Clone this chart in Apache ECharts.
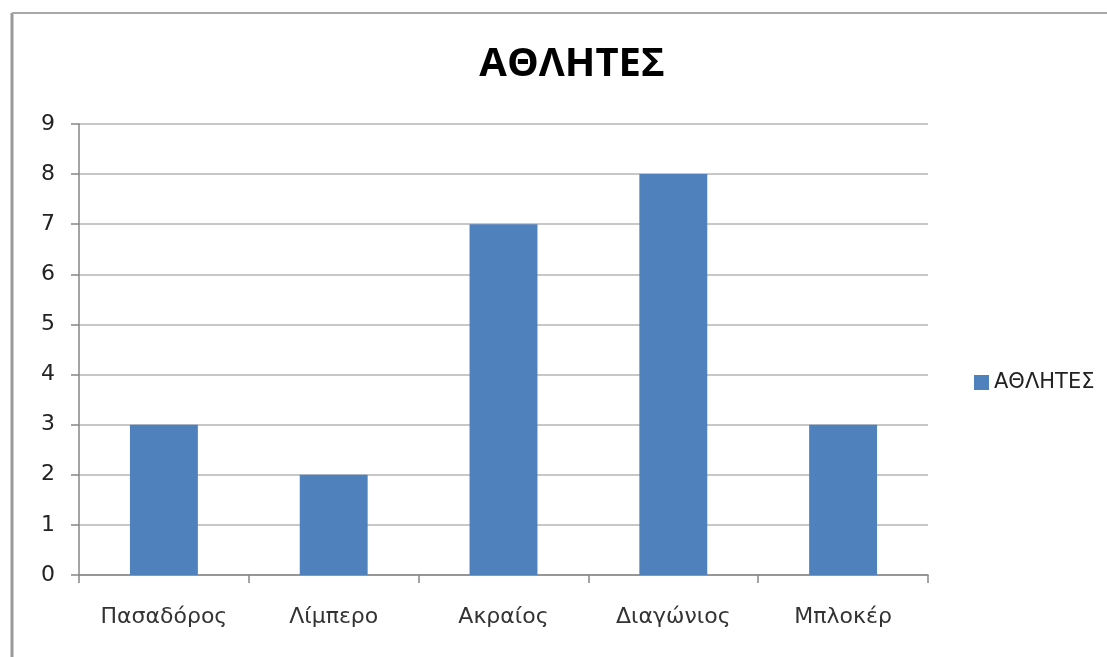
<!DOCTYPE html>
<html>
<head>
<meta charset="utf-8">
<script src="https://cdn.jsdelivr.net/npm/echarts@6/dist/echarts.min.js"></script>
<style>
  html, body { margin: 0; padding: 0; background: #fff; }
  #chart { width: 1107px; height: 657px; }
</style>
</head>
<body>
<div id="chart"></div>
<script>
// Players per position
const categories = ['Πασαδόρος', 'Λίμπερο', 'Ακραίος', 'Διαγώνιος', 'Μπλοκέρ'];
const athletes = [3, 2, 7, 8, 3];
const seriesName = 'ΑΘΛΗΤΕΣ';
const chartTitle = 'ΑΘΛΗΤΕΣ';

const chart = echarts.init(document.getElementById('chart'));
const font = 'DejaVu Sans, Verdana, sans-serif';

chart.setOption({
  animation: false,
  backgroundColor: '#fff',
  title: {
    text: chartTitle,
    left: 567,
    textAlign: 'center',
    top: 40,
    textStyle: { fontFamily: 'Open Sans, sans-serif', fontWeight: 'bold', fontSize: 40, color: '#000' }
  },
  legend: {
    data: [seriesName],
    left: 969,
    top: 367,
    orient: 'vertical',
    icon: 'rect',
    itemWidth: 15,
    itemHeight: 15,
    itemGap: 8,
    textStyle: { fontFamily: font, fontSize: 21, color: '#222' }
  },
  grid: { left: 79, right: 179, top: 124, bottom: 82, containLabel: false },
  xAxis: {
    type: 'category',
    data: categories,
    axisLine: { lineStyle: { color: '#868686', width: 1.5 } },
    axisTick: { show: true, length: 8, lineStyle: { color: '#868686', width: 1.5 } },
    axisLabel: { fontFamily: font, fontSize: 22, color: '#333', margin: 31 }
  },
  yAxis: {
    type: 'value',
    min: 0,
    max: 9,
    interval: 1,
    axisLine: { show: true, lineStyle: { color: '#868686', width: 1.5 } },
    axisTick: { show: true, length: 8, lineStyle: { color: '#868686', width: 1.5 } },
    axisLabel: { fontFamily: font, fontSize: 22, color: '#222', margin: 24 },
    splitLine: { lineStyle: { color: '#b5b5b5', width: 1.5 } }
  },
  series: [{
    name: seriesName,
    type: 'bar',
    data: athletes,
    barWidth: '40%',
    itemStyle: { color: '#4f81bd' }
  }],
  graphic: [
    { type: 'line', shape: { x1: 12, y1: 13, x2: 12, y2: 657 }, style: { stroke: '#9a9a9a', lineWidth: 3 } },
    { type: 'line', shape: { x1: 12, y1: 13, x2: 1107, y2: 13 }, style: { stroke: '#a8a8a8', lineWidth: 2 } }
  ]
});
</script>
</body>
</html>
